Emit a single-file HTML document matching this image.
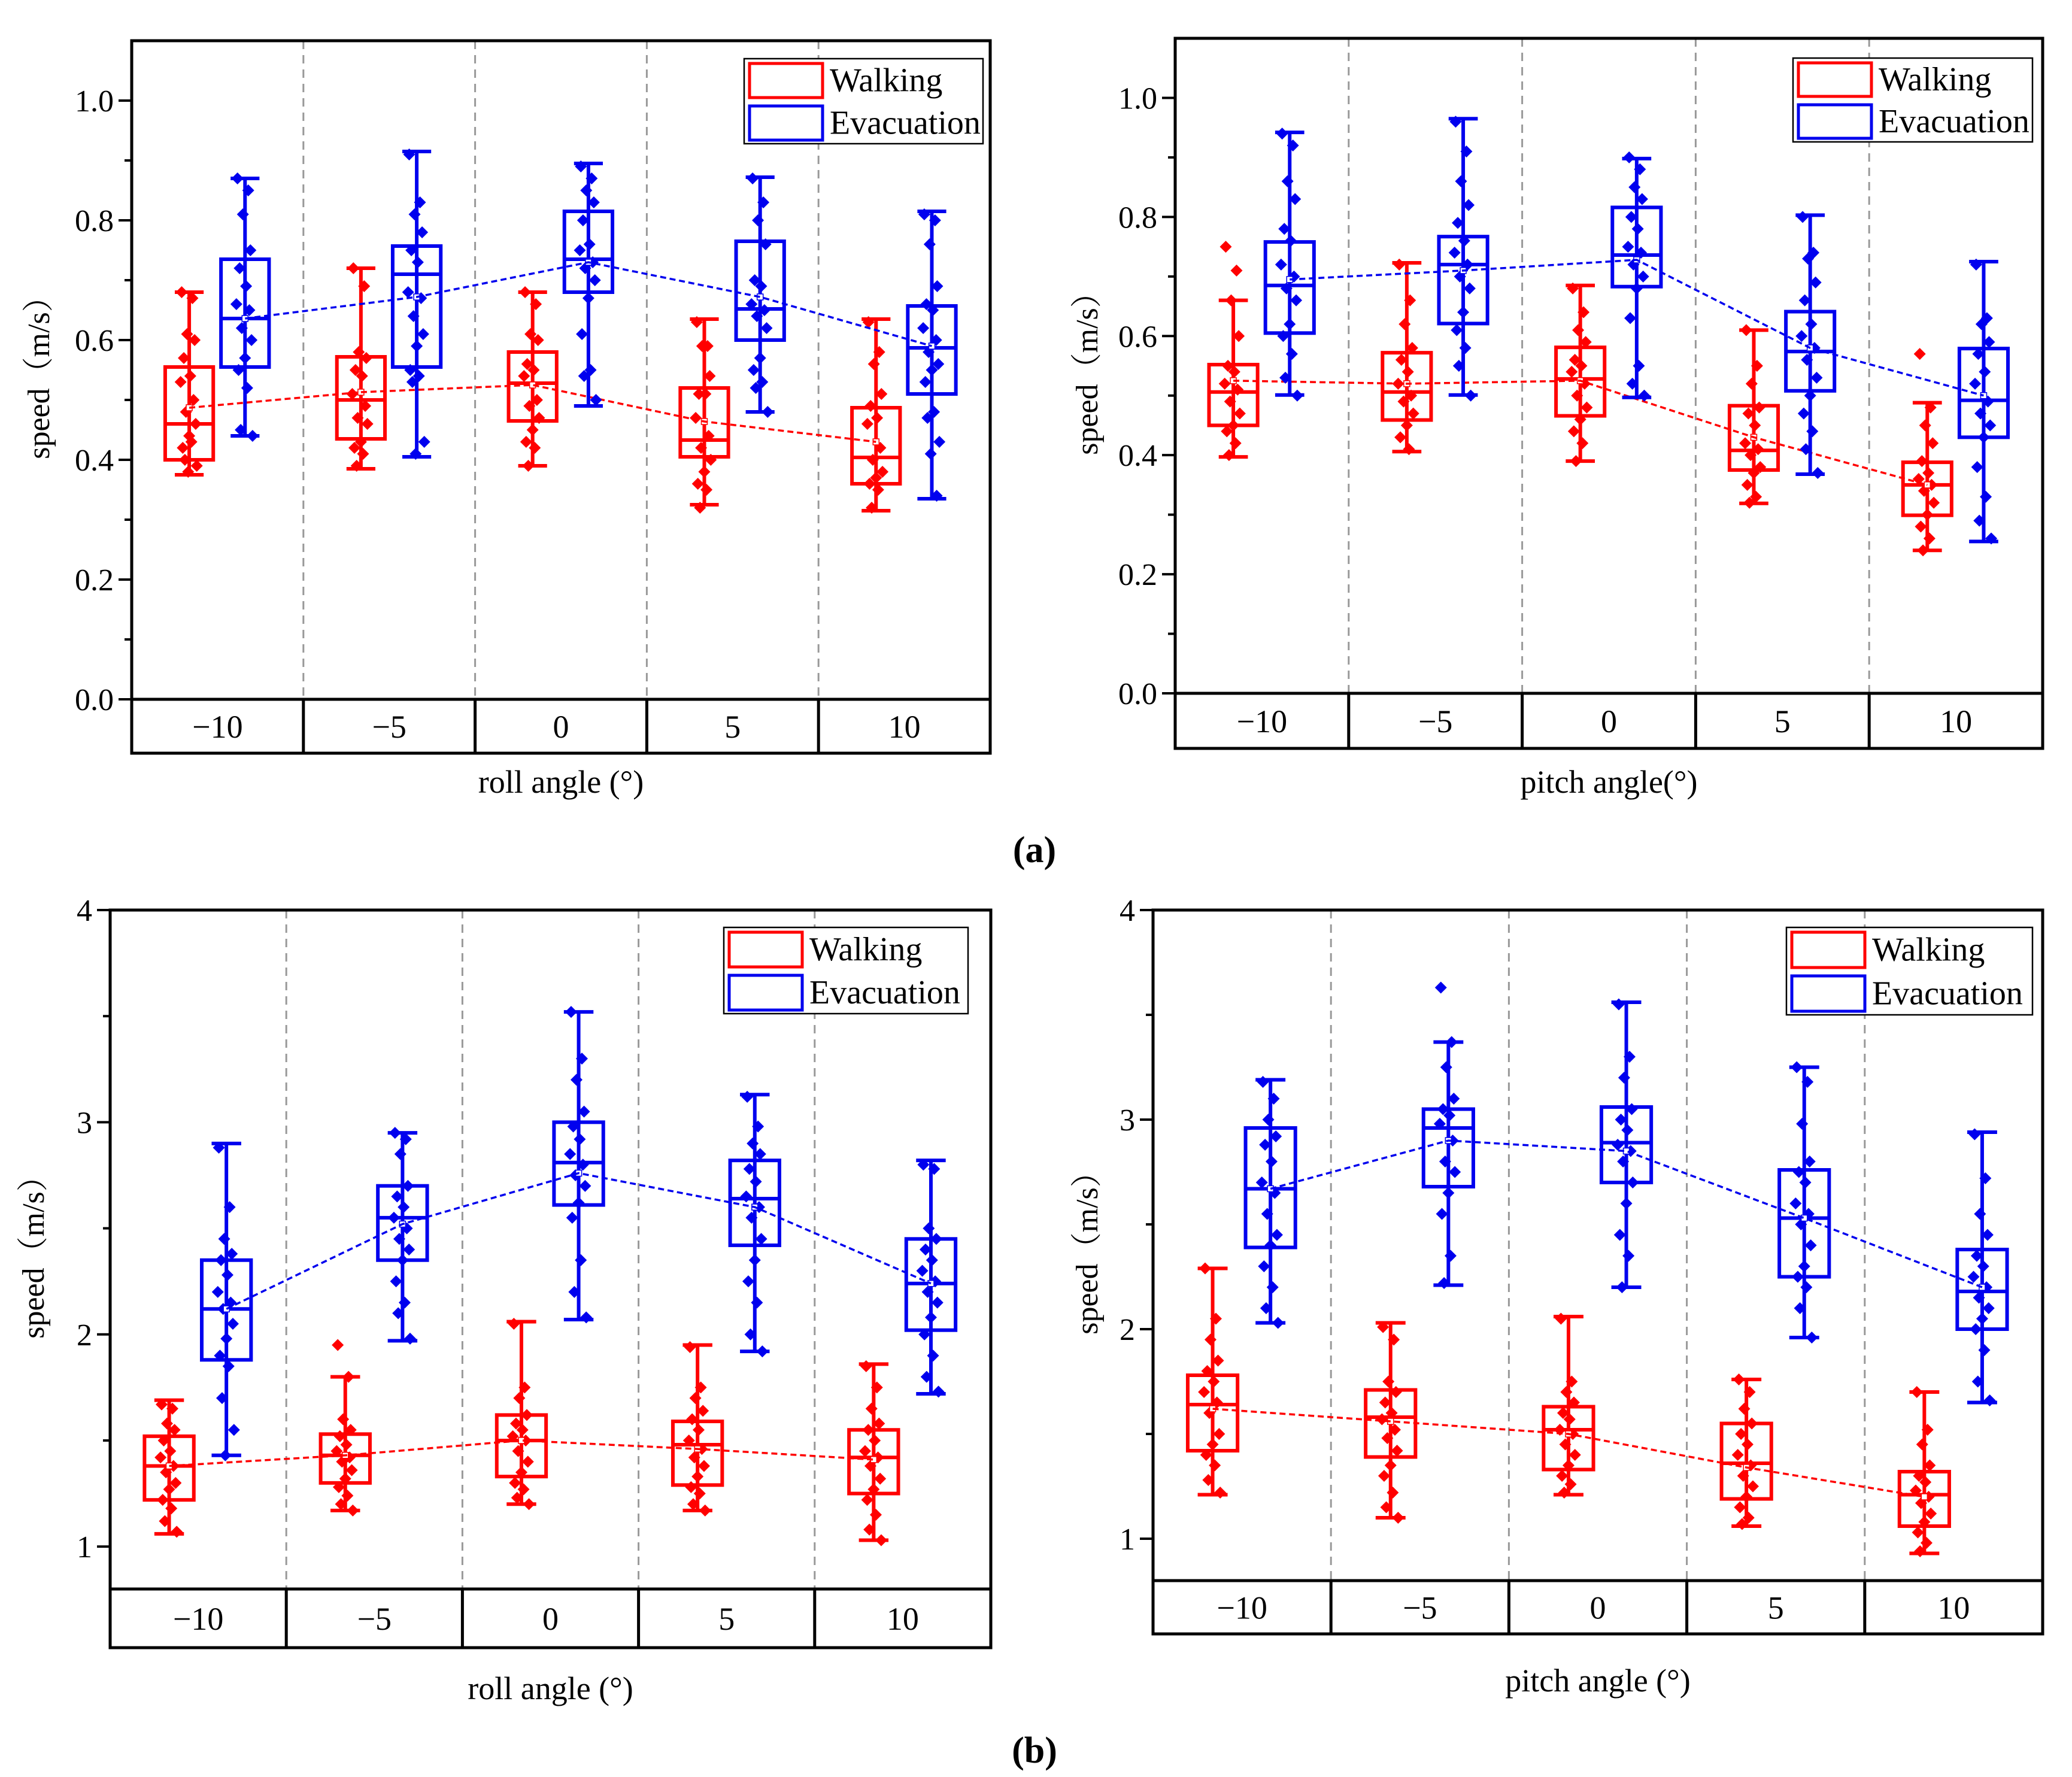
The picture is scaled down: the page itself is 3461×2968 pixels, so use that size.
<!DOCTYPE html>
<html><head><meta charset="utf-8"><style>
html,body{margin:0;padding:0;background:#fff;}
svg{display:block;font-family:"Liberation Serif",serif;}
</style></head><body>
<svg id="chart" width="3461" height="2968" viewBox="0 0 3461 2968" xmlns="http://www.w3.org/2000/svg">
<text x="1728" y="1440" font-size="62" font-weight="bold" text-anchor="middle">(a)</text>
<text x="1728" y="2944" font-size="62" font-weight="bold" text-anchor="middle">(b)</text>
</svg>
<script>
const categories = ["\u221210","\u22125","0","5","10"];
const seriesNames = ["Walking","Evacuation"];
// [min, q1, median, q3, max, mean]
const tlWalk = [[.375,.40,.46,.555,.68,.487],[.385,.435,.50,.572,.72,.513],[.39,.465,.528,.58,.68,.525],[.325,.405,.433,.52,.635,.464],[.315,.36,.404,.487,.635,.43]];
const tlEvac = [[.44,.555,.636,.735,.87,.636],[.405,.555,.71,.757,.915,.672],[.49,.68,.735,.815,.895,.73],[.48,.60,.652,.765,.872,.672],[.335,.51,.587,.657,.815,.59]];
const trWalk = [[.397,.45,.506,.552,.66,.525],[.406,.459,.506,.572,.723,.52],[.39,.466,.528,.581,.685,.525],[.319,.375,.408,.483,.61,.43],[.24,.299,.35,.388,.488,.35]];
const trEvac = [[.501,.605,.685,.758,.942,.695],[.501,.621,.72,.767,.965,.71],[.497,.683,.736,.816,.898,.728],[.368,.508,.574,.641,.803,.58],[.255,.43,.492,.579,.725,.50]];
const blWalk = [[1.06,1.22,1.38,1.52,1.69,1.38],[1.17,1.30,1.43,1.53,1.80,1.43],[1.20,1.33,1.50,1.62,2.06,1.50],[1.17,1.29,1.48,1.59,1.95,1.46],[1.03,1.25,1.42,1.55,1.86,1.41]];
const blEvac = [[1.43,1.88,2.12,2.35,2.90,2.12],[1.97,2.35,2.55,2.70,2.95,2.52],[2.07,2.61,2.81,3.0,3.52,2.76],[1.92,2.42,2.64,2.82,3.13,2.60],[1.72,2.02,2.24,2.45,2.82,2.24]];
const brWalk = [[1.21,1.42,1.64,1.78,2.29,1.62],[1.10,1.39,1.58,1.71,2.03,1.56],[1.21,1.33,1.52,1.63,2.06,1.50],[1.06,1.19,1.36,1.55,1.76,1.34],[0.93,1.06,1.21,1.32,1.70,1.20]];
const brEvac = [[2.03,2.39,2.67,2.96,3.19,2.67],[2.21,2.68,2.96,3.05,3.37,2.90],[2.20,2.70,2.89,3.06,3.56,2.85],[1.96,2.25,2.53,2.76,3.25,2.53],[1.65,2.0,2.18,2.38,2.94,2.20]];
const tlWalkPts = [[.68,.67,.61,.60,.57,.54,.53,.50,.48,.46,.44,.42,.43,.40,.39,.38],[.72,.69,.58,.57,.55,.54,.51,.49,.47,.46,.43,.42,.41,.39],[.68,.66,.61,.60,.56,.55,.54,.50,.49,.47,.45,.43,.42,.39],[.63,.59,.59,.54,.51,.51,.47,.44,.42,.40,.38,.36,.35,.32],[.63,.58,.56,.51,.49,.47,.46,.42,.40,.38,.37,.36,.35,.32]];
const tlEvacPts = [[.87,.85,.81,.75,.72,.69,.66,.65,.62,.60,.57,.55,.52,.45,.44],[.91,.83,.81,.78,.75,.73,.68,.67,.64,.61,.59,.55,.54,.53,.43,.41],[.89,.87,.85,.83,.80,.76,.75,.73,.72,.70,.67,.61,.55,.54,.50],[.87,.83,.80,.76,.70,.69,.66,.65,.64,.62,.57,.55,.53,.52,.48],[.81,.80,.76,.69,.66,.65,.62,.60,.58,.56,.55,.53,.48,.47,.43,.41,.34]];
const trWalkPts = [[.75,.71,.66,.60,.55,.54,.52,.51,.49,.47,.45,.44,.42,.40],[.72,.66,.62,.58,.56,.54,.52,.50,.49,.47,.45,.43,.41],[.68,.64,.61,.59,.56,.55,.54,.52,.50,.48,.46,.44,.42,.39],[.61,.55,.52,.48,.47,.45,.42,.41,.40,.38,.37,.35,.33,.32],[.57,.48,.45,.42,.39,.37,.36,.35,.34,.32,.30,.28,.26,.24]];
const trEvacPts = [[.94,.92,.86,.83,.78,.76,.72,.70,.68,.66,.62,.60,.57,.53,.50],[.96,.91,.86,.82,.79,.76,.74,.72,.70,.68,.64,.61,.58,.55,.50],[.90,.88,.85,.83,.80,.78,.75,.74,.72,.70,.68,.63,.55,.52,.50],[.80,.74,.73,.69,.66,.62,.60,.58,.56,.53,.50,.47,.44,.41,.37],[.72,.63,.62,.59,.57,.54,.52,.49,.47,.45,.43,.38,.33,.29,.26]];
const blWalkPts = [[1.67,1.65,1.58,1.55,1.50,1.45,1.42,1.38,1.35,1.30,1.27,1.22,1.18,1.12,1.07],[1.95,1.80,1.60,1.55,1.52,1.48,1.45,1.42,1.40,1.36,1.32,1.28,1.24,1.20,1.17],[2.05,1.75,1.70,1.62,1.58,1.55,1.52,1.50,1.45,1.40,1.35,1.30,1.27,1.23,1.20],[1.94,1.75,1.70,1.64,1.60,1.55,1.50,1.46,1.42,1.38,1.33,1.28,1.25,1.20,1.17],[1.85,1.75,1.65,1.58,1.55,1.50,1.45,1.42,1.38,1.32,1.27,1.22,1.15,1.08,1.03]];
const blEvacPts = [[2.88,2.60,2.45,2.38,2.35,2.28,2.20,2.15,2.12,2.05,1.98,1.90,1.85,1.70,1.55,1.43],[2.95,2.92,2.85,2.70,2.65,2.60,2.55,2.50,2.45,2.40,2.35,2.25,2.15,2.10,1.98],[3.52,3.30,3.20,3.05,2.98,2.92,2.85,2.80,2.75,2.70,2.62,2.55,2.35,2.20,2.08],[3.12,2.98,2.90,2.85,2.78,2.72,2.65,2.60,2.55,2.45,2.35,2.25,2.15,2.00,1.92],[2.80,2.78,2.50,2.45,2.40,2.35,2.30,2.25,2.20,2.15,2.08,2.00,1.90,1.80,1.73]];
const brWalkPts = [[2.29,2.05,1.95,1.85,1.80,1.75,1.70,1.65,1.60,1.50,1.45,1.40,1.35,1.28,1.22],[2.01,1.95,1.75,1.70,1.65,1.60,1.57,1.52,1.48,1.42,1.35,1.30,1.22,1.15,1.10],[2.05,1.75,1.70,1.65,1.60,1.57,1.52,1.50,1.45,1.40,1.35,1.30,1.26,1.22],[1.76,1.70,1.62,1.55,1.50,1.45,1.40,1.35,1.30,1.25,1.20,1.15,1.10,1.07],[1.70,1.52,1.45,1.35,1.30,1.27,1.23,1.20,1.17,1.12,1.08,1.03,0.98,0.94]];
const brEvacPts = [[3.18,3.10,3.00,2.92,2.88,2.80,2.70,2.65,2.55,2.45,2.40,2.30,2.20,2.10,2.03],[3.63,3.37,3.25,3.10,3.05,3.02,2.98,2.90,2.80,2.75,2.65,2.55,2.35,2.22],[3.55,3.30,3.20,3.05,3.00,2.95,2.88,2.85,2.80,2.70,2.60,2.45,2.35,2.20],[3.25,3.18,2.98,2.80,2.75,2.70,2.60,2.55,2.50,2.40,2.30,2.25,2.20,2.10,1.96],[2.93,2.72,2.55,2.45,2.35,2.30,2.25,2.20,2.15,2.10,2.05,2.00,1.90,1.75,1.66]];
const topTicks = ["0.0","0.2","0.4","0.6","0.8","1.0"];
const bottomTicks = ["1","2","3","4"];

const NS = "http://www.w3.org/2000/svg";
const svg = document.getElementById("chart");
function mk(tag, attrs, parent){const e=document.createElementNS(NS,tag);for(const k in attrs)e.setAttribute(k,attrs[k]);(parent||svg).appendChild(e);return e;}
const jit=[-14,6,-4,10,-10,2,-16,8,-6,12,0,-12,4,-8,14,-2,9];

function panel(p){
  const g=mk("g",{});
  
  
  const y=v=>p.y0-(v-p.vmin)*(p.y0-p.top)/(p.vmax-p.vmin);
  const cw=(p.right-p.left)/5;
  for(let i=1;i<5;i++){
    const l=mk("line",{x1:p.left+cw*i,x2:p.left+cw*i,y1:p.top,y2:p.y0,stroke:"#999","stroke-width":3,"stroke-dasharray":"14,10"},g);
    
    
  }
  p.ticks.forEach(t=>{
    const v=parseFloat(t), yy=y(v);
    const tk=mk("line",{x1:p.left-22,x2:p.left,y1:yy,y2:yy,stroke:"#000","stroke-width":4},g);
    
    
    const tx=mk("text",{x:p.left-30,y:yy+18,"font-size":52,"text-anchor":"end"},g);
    tx.textContent=t;
    
    
  });
  p.minor.forEach(v=>{
    const yy=y(v);
    const tk=mk("line",{x1:p.left-12,x2:p.left,y1:yy,y2:yy,stroke:"#000","stroke-width":4},g);
    
    
  });
  const series=[[p.walk,p.walkPts,"#ff0000",0.335],[p.evac,p.evacPts,"#0000ee",0.66]];
  series.forEach(([stats,pts,col,off],si)=>{
    const means=[];
    stats.forEach((s,i)=>{
      const cx=p.left+cw*i+cw*off, bw=cw*0.28;
      means.push([cx,y(s[5])]);
      const wl=mk("line",{x1:cx,x2:cx,y1:y(s[4]),y2:y(s[0]),stroke:col,"stroke-width":6},g);
      
      
      [s[0],s[4]].forEach(v=>{
        const c=mk("line",{x1:cx-bw*0.3,x2:cx+bw*0.3,y1:y(v),y2:y(v),stroke:col,"stroke-width":6},g);
        
        
      });
      const b=mk("rect",{x:cx-bw/2,y:y(s[3]),width:bw,height:y(s[1])-y(s[3]),fill:"none",stroke:col,"stroke-width":6},g);
      
      
      const m=mk("line",{x1:cx-bw/2,x2:cx+bw/2,y1:y(s[2]),y2:y(s[2]),stroke:col,"stroke-width":6},g);
      
      
      pts[i].forEach((v,k)=>{
        const px=cx+jit[k%jit.length]*0.9, py=y(v), r=10;
        const d=mk("polygon",{points:`${px},${py-r} ${px+r},${py} ${px},${py+r} ${px-r},${py}`,fill:col},g);
        
        
      });
      const ms=mk("rect",{x:cx-5,y:y(s[5])-5,width:10,height:10,fill:"#fff",stroke:col,"stroke-width":1.5},g);
      
      
    });
    const ml=mk("polyline",{points:means.map(q=>q.join(",")).join(" "),fill:"none",stroke:col,"stroke-width":3.5,"stroke-dasharray":"10,6"},g);
    
    
  });
  const fr=mk("rect",{x:p.left,y:p.top,width:p.right-p.left,height:p.y0-p.top,fill:"none",stroke:"#000","stroke-width":5},g);
  
  
  const cb=mk("rect",{x:p.left,y:p.y0,width:p.right-p.left,height:p.cb-p.y0,fill:"none",stroke:"#000","stroke-width":5},g);
  
  
  categories.forEach((c,i)=>{
    if(i>0){
      const l=mk("line",{x1:p.left+cw*i,x2:p.left+cw*i,y1:p.y0,y2:p.cb,stroke:"#000","stroke-width":5},g);
      
      
    }
    const t=mk("text",{x:p.left+cw*(i+0.5),y:(p.y0+p.cb)/2+19,"font-size":54,"text-anchor":"middle"},g);
    t.textContent=c;
    
    
  });
  const xt=mk("text",{x:(p.left+p.right)/2,y:p.xty,"font-size":54,"text-anchor":"middle"},g);
  xt.textContent=p.xtitle;
  
  
  const ym=(p.top+p.y0)/2;
  const yt=mk("text",{x:p.ytx,y:ym,"font-size":52,"text-anchor":"middle",transform:`rotate(-90 ${p.ytx} ${ym})`},g);
  yt.textContent="speed\uFF08m/s\uFF09";
  yt.setAttribute("font-family",'"Liberation Serif","Noto Serif CJK SC",serif');
  
  
  const L=p.leg;
  const lg=mk("g",{},g);
  
  
  mk("rect",{x:L[0],y:L[1],width:L[2]-L[0],height:L[3]-L[1],fill:"#fff",stroke:"#000","stroke-width":2.5},lg);
  const rh=(L[3]-L[1])/2;
  [["Walking","#ff0000"],["Evacuation","#0000ee"]].forEach(([n,c],k)=>{
    const e=mk("g",{},lg);
    
    
    mk("rect",{x:L[0]+9,y:L[1]+k*rh+8,width:122,height:rh-14,fill:"none",stroke:c,"stroke-width":5},e);
    const t=mk("text",{x:L[0]+143,y:L[1]+k*rh+rh/2+19,"font-size":56},e);
    t.textContent=n;
  });
}
panel({name:"panel-roll-a",left:220,right:1654,top:68,y0:1168,cb:1258,vmin:0,vmax:1.1,
  ticks:topTicks,minor:[.1,.3,.5,.7,.9],walk:tlWalk,evac:tlEvac,walkPts:tlWalkPts,evacPts:tlEvacPts,
  xtitle:"roll angle (\u00B0)",xty:1324,ytx:82,leg:[1243,98,1642,240]});
panel({name:"panel-pitch-a",left:1963,right:3412,top:64,y0:1158,cb:1250,vmin:0,vmax:1.1,
  ticks:topTicks,minor:[.1,.3,.5,.7,.9],walk:trWalk,evac:trEvac,walkPts:trWalkPts,evacPts:trEvacPts,
  xtitle:"pitch angle(\u00B0)",xty:1324,ytx:1833,leg:[2995,97,3395,237]});
panel({name:"panel-roll-b",left:184,right:1655,top:1520,y0:2654,cb:2752,vmin:0.8,vmax:4,
  ticks:bottomTicks,minor:[1.5,2.5,3.5],walk:blWalk,evac:blEvac,walkPts:blWalkPts,evacPts:blEvacPts,
  xtitle:"roll angle (\u00B0)",xty:2838,ytx:73,leg:[1209,1549,1617,1693]});
panel({name:"panel-pitch-b",left:1926,right:3412,top:1520,y0:2640,cb:2729,vmin:0.8,vmax:4,
  ticks:bottomTicks,minor:[1.5,2.5,3.5],walk:brWalk,evac:brEvac,walkPts:brWalkPts,evacPts:brEvacPts,
  xtitle:"pitch angle (\u00B0)",xty:2825,ytx:1833,leg:[2984,1549,3395,1695]});
</script>
</body></html>
